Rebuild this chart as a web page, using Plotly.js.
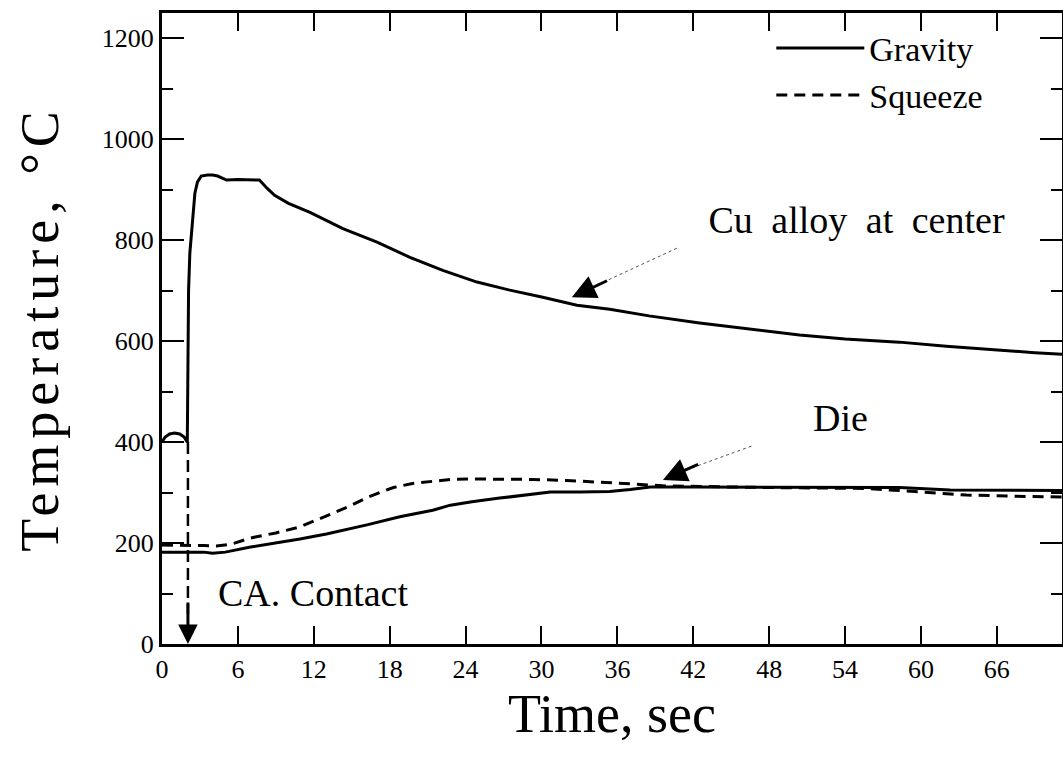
<!DOCTYPE html>
<html>
<head>
<meta charset="utf-8">
<script src="https://cdn.plot.ly/plotly-3.0.1.min.js"></script>
<style>
html,body{margin:0;padding:0;background:#fff;}
#chart{width:1063px;height:757px;}
#chart .ytitle{letter-spacing:6px;}
#chart .annotation[data-index="0"] text{word-spacing:9px;}
</style>
</head>
<body>
<div id="chart"></div>
<script>
// ---- data (time in s, temperature in °C) ----
const gravityCenterTime = [0, 0.25, 0.6, 1.0, 1.4, 1.75, 2.0, 2.03, 2.06, 2.1, 2.2, 2.4, 2.6, 2.8, 3.1, 3.6, 4.0, 4.4, 5.1, 6.0, 7.0, 7.7, 8.3, 8.9, 10.0, 11.7, 14.3, 17.0, 19.6, 22.2, 24.9, 27.5, 30.1, 32.8, 35.4, 38.5, 42.5, 46.5, 50.4, 54.0, 58.3, 62.0, 66.2, 69.0, 71.2];
const gravityCenterTemp = [400, 410, 416, 418, 416, 410, 400, 520, 640, 700, 774, 840, 893, 915, 927, 929, 929, 927, 919, 920, 920, 919, 903, 889, 873, 855, 823, 796, 766, 740, 717, 701, 687, 671, 663, 650, 636, 624, 612, 604, 598, 590, 582, 577, 574];

const gravityDieTime = [0, 1, 2, 3.3, 4.0, 5.0, 7.0, 9.0, 10.9, 13.0, 14.9, 16.2, 18.8, 21.4, 22.8, 24.5, 26.7, 28.5, 30.7, 33.0, 35.4, 37.0, 38.6, 42.0, 46.0, 50.0, 54.0, 58.3, 62.3, 66.0, 71.2];
const gravityDieTemp = [182, 182, 182, 182, 180, 182, 192, 200, 208, 218, 228, 236, 252, 265, 275, 282, 289, 294, 301, 301, 302, 306, 311, 311, 311, 311, 310, 310, 305, 304, 304];

const squeezeDieTime = [0, 1, 2.2, 3.3, 4.3, 5.5, 7.0, 9.0, 10.9, 12.2, 13.5, 14.9, 16.2, 17.2, 18.3, 19.8, 21.4, 22.8, 24.1, 26.7, 29.3, 32.0, 34.6, 37.2, 39.9, 44.0, 48.0, 52.0, 55.7, 59.5, 63.6, 67.0, 71.2];
const squeezeDieTemp = [196, 196, 196, 195, 194, 198, 210, 220, 232, 245, 259, 274, 290, 300, 310, 318, 323, 326, 327, 327, 326, 324, 321, 317, 313, 311, 310, 309, 308, 302, 295, 293, 291];

const xTickVals = [0, 6, 12, 18, 24, 30, 36, 42, 48, 54, 60, 66];
const yTickVals = [0, 200, 400, 600, 800, 1000, 1200];

const seriesNames = ['Gravity', 'Squeeze'];
const contactTime = 2.05;
const contactTempTop = 400;

const FONT = 'Liberation Serif, Times New Roman, serif';

const traces = [
  {x: gravityCenterTime, y: gravityCenterTemp, mode: 'lines', name: seriesNames[0], legendgroup: 'g',
   line: {color: '#000', width: 3, dash: 'solid'}},
  {x: gravityDieTime, y: gravityDieTemp, mode: 'lines', name: seriesNames[0], legendgroup: 'g', showlegend: false,
   line: {color: '#000', width: 3, dash: 'solid'}},
  {x: squeezeDieTime, y: squeezeDieTemp, mode: 'lines', name: seriesNames[1],
   line: {color: '#000', width: 3, dash: '11px,7px'}}
];

const layout = {
  width: 1063, height: 757,
  margin: {l: 162, r: 1, t: 13, b: 113},
  paper_bgcolor: '#fff', plot_bgcolor: '#fff',
  font: {family: FONT, color: '#000', size: 26},
  showlegend: true,
  legend: {x: 0.677, y: 0.99, xanchor: 'left', yanchor: 'top', bgcolor: 'rgba(0,0,0,0)',
           font: {family: FONT, size: 34, color: '#000'}, tracegroupgap: 0, itemwidth: 88},
  xaxis: {
    range: [0, 71.15], tickvals: xTickVals, ticktext: xTickVals.map(String),
    ticks: 'inside', ticklen: 18, tickwidth: 2, tickcolor: '#000',
    showline: true, linewidth: 3, linecolor: '#000', mirror: 'ticks',
    showgrid: false, zeroline: false,
    tickfont: {family: FONT, size: 26, color: '#000'},
    title: {text: 'Time, sec', font: {family: FONT, size: 54, color: '#000'}, standoff: 8}
  },
  yaxis: {
    range: [0, 1250], tickvals: yTickVals, ticktext: yTickVals.map(String),
    ticks: 'inside', ticklen: 22, tickwidth: 2, tickcolor: '#000',
    minor: {dtick: 100, ticks: 'inside', ticklen: 11, tickwidth: 2, tickcolor: '#000', showgrid: false},
    showline: true, linewidth: 3, linecolor: '#000', mirror: 'ticks',
    showgrid: false, zeroline: false,
    tickfont: {family: FONT, size: 26, color: '#000'},
    title: {text: 'Temperature, °C', font: {family: FONT, size: 54, color: '#000'}, standoff: 26}
  },
  shapes: [
    {type: 'line', xref: 'x', yref: 'y', x0: contactTime, x1: contactTime, y0: contactTempTop, y1: 60,
     line: {color: '#000', width: 2.5, dash: '12px,6px'}},
    {type: 'line', xref: 'x', yref: 'y', x0: 40.7, y0: 784, x1: 35.0, y1: 718,
     line: {color: '#555', width: 1, dash: 'dot'}},
    {type: 'line', xref: 'x', yref: 'y', x0: 46.6, y0: 392, x1: 42.0, y1: 350,
     line: {color: '#555', width: 1, dash: 'dot'}}
  ],
  annotations: [
    {x: 54.9, y: 840, xref: 'x', yref: 'y', text: 'Cu alloy at center', showarrow: false,
     font: {family: FONT, size: 38, color: '#000'}},
    {x: 53.6, y: 448, xref: 'x', yref: 'y', text: 'Die', showarrow: false,
     font: {family: FONT, size: 38, color: '#000'}},
    {x: 11.9, y: 101, xref: 'x', yref: 'y', text: 'CA. Contact', showarrow: false,
     font: {family: FONT, size: 38, color: '#000'}},
    {x: 32.4, y: 687, xref: 'x', yref: 'y', ax: 35.3, ay: 721, axref: 'x', ayref: 'y',
     text: '', showarrow: true, arrowhead: 2, arrowsize: 1.6, arrowwidth: 3, arrowcolor: '#000'},
    {x: 39.6, y: 325, xref: 'x', yref: 'y', ax: 42.5, ay: 357, axref: 'x', ayref: 'y',
     text: '', showarrow: true, arrowhead: 2, arrowsize: 1.6, arrowwidth: 3, arrowcolor: '#000'},
    {x: contactTime, y: 0, xref: 'x', yref: 'y', ax: contactTime, ay: 85, axref: 'x', ayref: 'y',
     text: '', showarrow: true, arrowhead: 2, arrowsize: 1.3, arrowwidth: 3, arrowcolor: '#000'}
  ]
};

Plotly.newPlot('chart', traces, layout, {displayModeBar: false, staticPlot: true});
</script>
</body>
</html>
